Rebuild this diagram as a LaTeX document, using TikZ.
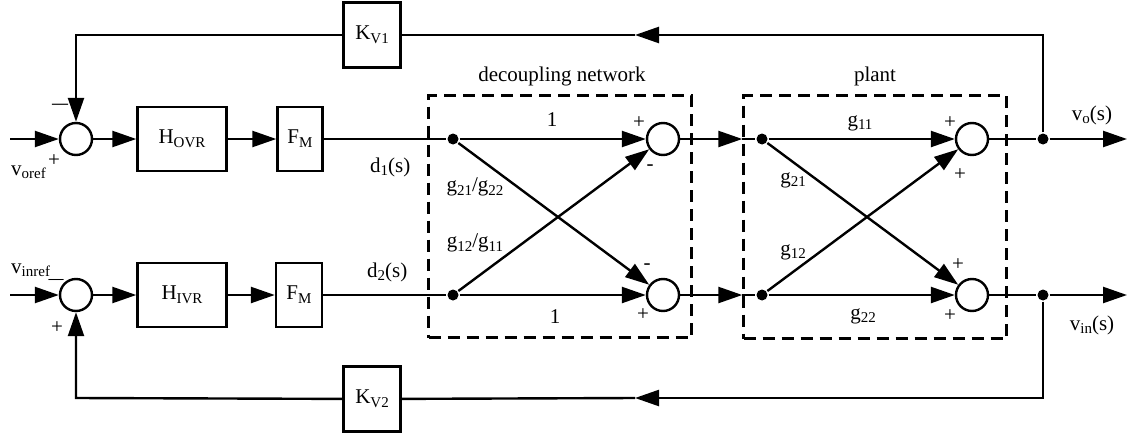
\documentclass[tikz,border=0pt]{standalone}
\usepackage{fontspec}
\setmainfont{Liberation Serif}
\usetikzlibrary{arrows.meta,calc}
\newcommand\sbx[1]{\raisebox{-3.8pt}{\fontsize{15}{15}\selectfont #1}}
\begin{document}
\begin{tikzpicture}[x=1pt,y=-1pt, line width=2.4pt,
  every node/.style={font=\fontsize{21}{25}\selectfont, inner sep=0pt},
  blk/.style={draw, line width=2.4pt, anchor=center},
  sumc/.style={draw, circle, minimum size=32pt, line width=2.4pt},
  dotn/.style={circle, fill, minimum size=11pt},
  arr/.style={-{Triangle[length=24pt,width=16pt]}},
  dbox/.style={draw, dash pattern=on 12pt off 7pt, line width=2.4pt},
  sgn/.style={font=\fontsize{21}{25}\selectfont},
  bar/.style={font=\fontsize{16}{16}\bfseries},
  lbl/.style={font=\fontsize{21}{25}\selectfont}
]
\useasboundingbox (0,0) rectangle (1130,439);

% dashed boxes
\node[dbox, minimum width=263pt, minimum height=242pt] (dec) at (560,216.5) {};
\node[dbox, minimum width=263pt, minimum height=243pt] (plant) at (875,217) {};
\node[lbl] (declbl) at (562,76) {decoupling network};
\node[lbl] (plantlbl) at (875,76) {plant};

% blocks
\node[blk, minimum width=89pt, minimum height=64pt] (hovr) at (182,139) {H\sbx{OVR}};
\node[blk, minimum width=45pt, minimum height=64pt] (fm1) at (300,139) {F\sbx{M}};
\node[blk, minimum width=89pt, minimum height=64pt] (hivr) at (182,295) {H\sbx{IVR}};
\node[blk, minimum width=46pt, minimum height=64pt] (fm2) at (299,295) {F\sbx{M}};
\node[blk, minimum width=57pt, minimum height=65pt] (kv1) at (372,35) {K\sbx{V1}};
\node[blk, minimum width=57pt, minimum height=65pt] (kv2) at (372,399) {K\sbx{V2}};

% summing junctions
\node[sumc] (s1) at (76,139) {};
\node[sumc] (s2) at (76,295) {};
\node[sumc] (d1s) at (663,139) {};
\node[sumc] (d2s) at (663,295) {};
\node[sumc] (p1s) at (972,139) {};
\node[sumc] (p2s) at (972,295) {};

% dots
\node[dotn] (dd1) at (453,139) {};
\node[dotn] (dd2) at (453,295) {};
\node[dotn] (pd1) at (762,139) {};
\node[dotn] (pd2) at (762,295) {};
\node[dotn] (j1) at (1043,139) {};
\node[dotn] (j2) at (1043,295) {};

% coordinates
\coordinate (in1) at (10,139);
\coordinate (in2) at (10,295);
\coordinate (out1) at (1127,139);
\coordinate (out2) at (1127,295);
\coordinate (tl) at (76,35);
\coordinate (tr) at (1043,35);
\coordinate (bl) at (76,398);
\coordinate (br) at (1043,398);
\coordinate (a1) at (635,35);
\coordinate (a2) at (635,398);
\coordinate (e1) at (d1s -| plant.west);
\coordinate (e2) at (d2s -| plant.west);

% forward paths
\draw[arr] (in1) -- (s1);
\draw[arr] (s1) -- (hovr);
\draw[arr] (hovr) -- (fm1);
\draw (fm1) -- (dd1);
\draw[arr] (in2) -- (s2);
\draw[arr] (s2) -- (hivr);
\draw[arr] (hivr) -- (fm2);
\draw (fm2) -- (dd2);

% decoupling network
\draw[arr] (dd1) -- (d1s);
\draw[arr] (dd1) -- (d2s);
\draw[arr] (dd2) -- (d1s);
\draw[arr] (dd2) -- (d2s);
\draw[arr] (d1s) -- (e1);
\draw (e1) -- (pd1);
\draw[arr] (d2s) -- (e2);
\draw (e2) -- (pd2);

% plant
\draw[arr] (pd1) -- (p1s);
\draw[arr] (pd1) -- (p2s);
\draw[arr] (pd2) -- (p1s);
\draw[arr] (pd2) -- (p2s);
\draw (p1s) -- (j1);
\draw (p2s) -- (j2);
\draw[arr] (j1) -- (out1);
\draw[arr] (j2) -- (out2);

% feedback
\draw[arr] (j1) -- (tr) -- (a1);
\draw (a1) -- (kv1);
\draw[arr] (kv1) -- (tl) -- (s1);
\draw[arr] (j2) -- (br) -- (a2);
\draw (a2) -- (kv2);
\draw[arr] (kv2) -- (bl) -- (s2);

% labels
\node[lbl, anchor=base west] (vor) at (10,175) {v\sbx{oref}};
\node[sgn] (p1) at (54,161) {+};
\node[bar] (m1) at (60,106) {—};
\node[lbl, anchor=base west] (vir) at (10,273) {v\sbx{inref}};
\node[bar, font=\fontsize{15}{15}\bfseries] (m2) at (56,281) {—};
\node[sgn] (p2) at (57,328) {+};
\node[lbl, anchor=base west] (dl1) at (369,172) {d\sbx{1}(s)};
\node[lbl, anchor=base west] (dl2) at (366,277) {d\sbx{2}(s)};

\node[lbl] (one1) at (552,120) {1};
\node[lbl] (one2) at (555,317) {1};
\node[lbl] (g2122) at (475,187) {g\sbx{21}/g\sbx{22}};
\node[lbl] (g1211) at (475,243) {g\sbx{12}/g\sbx{11}};
\node[sgn] (dp1) at (639,123) {+};
\node[sgn] (dm1) at (650,168) {-};
\node[sgn] (dm2) at (647,267) {-};
\node[sgn] (dp2) at (643,315) {+};

\node[lbl] (g11) at (860,123) {g\sbx{11}};
\node[lbl] (g21) at (793,180) {g\sbx{21}};
\node[lbl] (g12) at (793,252) {g\sbx{12}};
\node[lbl] (g22) at (863,316) {g\sbx{22}};
\node[sgn] (pp1) at (950,123) {+};
\node[sgn] (pp2) at (960,175) {+};
\node[sgn] (pp3) at (958,265) {+};
\node[sgn] (pp4) at (950,316) {+};

\node[lbl] (vo) at (1092,115) {v\sbx{o}(s)};
\node[lbl] (vin) at (1092,325) {v\sbx{in}(s)};
\end{tikzpicture}
\end{document}
